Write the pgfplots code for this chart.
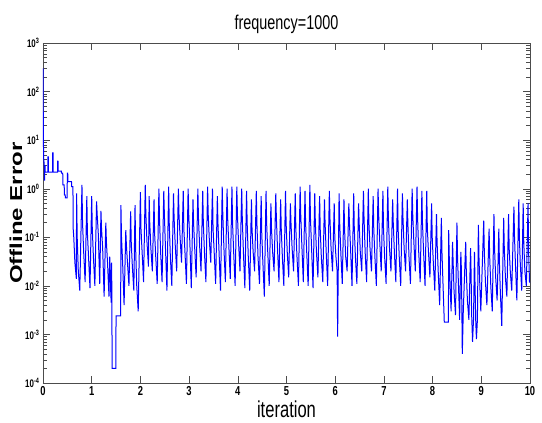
\documentclass[border=0pt]{standalone}
\usepackage{fontspec}
\setmainfont{Liberation Sans}[FakeStretch=0.72]
\newfontfamily\ylabfont{Liberation Sans}
\usepackage{graphicx}
\usepackage{pgfplots}
\pgfplotsset{compat=1.18}
\pgfplotsset{
  every axis title/.style={at={(axis description cs:0.5,1)},anchor=base,yshift=14pt,font=\fontsize{20}{22}\selectfont},
  every axis x label/.style={at={(axis description cs:0.5,0)},anchor=base,yshift=-35pt,font=\fontsize{23}{25}\selectfont},
  every axis y label/.style={at={(axis description cs:0,0.5)},anchor=center,xshift=-27pt,rotate=90},
}
\begin{document}
\begin{tikzpicture}
\useasboundingbox (-43pt,-40pt) rectangle (499pt,383pt);
\begin{axis}[
  scale only axis, width=487pt, height=340pt,
  ymode=log, log basis y=10,
  xmin=0, xmax=10, ymin=1e-4, ymax=1e3,
  xtick={0,1,2,3,4,5,6,7,8,9,10},
  /pgf/number format/assume math mode=true,
  xticklabel style={font=\bfseries\fontsize{13}{14}\selectfont},
  yticklabel style={font=\bfseries\fontsize{11}{12}\selectfont},
  yticklabel={10\textsuperscript{\pgfmathparse{int(round(\tick))}\pgfmathresult}},
  axis line style={black!70},
  every tick/.style={black!70},
  major tick length=7pt, minor tick length=4pt,
  title={frequency=1000},
  xlabel={iteration},
  ylabel={\scalebox{1}[0.72]{\ylabfont\bfseries\fontsize{24}{26}\selectfont Offline Error}},
]
\addplot[sharp plot, draw=blue, line width=1pt] coordinates {
(0,300)(0.004,60)(0.008,12)(0.012,5)(0.018,3.5)(0.025,3.5)(0.028,1.5)(0.032,1.5)(0.033,3)(0.044,3)(0.045,2.2)(0.098,2.2)(0.10,4.5)(0.108,4.5)(0.11,2.2)(0.198,2.2)(0.20,5.5)(0.208,5.5)(0.21,2.2)(0.298,2.2)(0.30,3.7)(0.308,3.7)(0.31,2.3)(0.378,2.3)(0.38,2.1)(0.405,2.1)(0.41,1.2)(0.435,1.2)(0.44,0.75)(0.455,0.75)(0.46,0.65)(0.495,0.65)(0.50,2.1)(0.508,2.1)(0.51,1.4)(0.585,1.4)(0.59,1.1)(0.615,1.1)
(0.62,0.15)(0.632,0.1)(0.655,0.03)(0.685,0.014)
(0.69,0.8)(0.702,0.1)(0.725,0.02)(0.755,0.008)
(0.80,1.2)(0.812,0.2)(0.835,0.05)(0.865,0.012)
(0.90,0.7)(0.912,0.12)(0.935,0.04)(0.965,0.009)
(1.00,0.7)(1.012,0.15)(1.035,0.04)(1.065,0.010)
(1.10,0.55)(1.112,0.3)(1.135,0.12)(1.165,0.011)
(1.19,0.35)(1.202,0.15)(1.225,0.06)(1.255,0.006)
(1.29,0.2)(1.302,0.08)(1.325,0.03)(1.355,0.006)
(1.37,0.04)(1.382,0.02)(1.39,0.008)(1.40,0.0045)(1.41,0.03)(1.42,0.0002)(1.495,0.0002)(1.50,0.0024)(1.595,0.0024)
(1.60,0.46)(1.612,0.1)(1.635,0.03)(1.665,0.004)
(1.70,0.14)(1.712,0.07)(1.735,0.03)(1.765,0.01)
(1.80,0.34)(1.812,0.08)(1.835,0.025)(1.865,0.008)
(1.89,0.46)(1.902,0.06)(1.925,0.01)(1.955,0.003)
(2.00,0.85)(2.012,0.15)(2.035,0.05)(2.065,0.012)
(2.10,1.2)(2.112,0.3)(2.135,0.08)(2.165,0.025)
(2.18,0.7)(2.192,0.2)(2.215,0.06)(2.245,0.02)
(2.28,0.6)(2.292,0.12)(2.315,0.04)(2.345,0.011)
(2.38,1.0)(2.392,0.25)(2.415,0.05)(2.445,0.012)
(2.48,0.9)(2.492,0.3)(2.515,0.06)(2.545,0.008)
(2.58,1.1)(2.592,0.2)(2.615,0.04)(2.645,0.010)
(2.68,0.8)(2.692,0.25)(2.715,0.07)(2.745,0.02)
(2.78,1.0)(2.792,0.3)(2.815,0.1)(2.845,0.03)
(2.88,0.9)(2.892,0.15)(2.915,0.05)(2.945,0.011)
(2.98,1.0)(2.992,0.3)(3.015,0.08)(3.045,0.009)
(3.08,0.6)(3.092,0.2)(3.115,0.06)(3.145,0.015)
(3.18,1.0)(3.192,0.25)(3.215,0.07)(3.245,0.02)
(3.28,0.9)(3.292,0.2)(3.315,0.05)(3.345,0.012)
(3.38,1.1)(3.392,0.3)(3.415,0.09)(3.445,0.03)
(3.48,1.0)(3.492,0.15)(3.515,0.05)(3.545,0.011)
(3.58,0.7)(3.592,0.2)(3.615,0.05)(3.645,0.008)
(3.68,1.1)(3.692,0.3)(3.715,0.06)(3.745,0.012)
(3.78,1.0)(3.792,0.25)(3.815,0.07)(3.845,0.014)
(3.88,1.1)(3.892,0.2)(3.915,0.05)(3.945,0.010)
(3.98,1.1)(3.992,0.3)(4.015,0.08)(4.045,0.02)
(4.08,1.0)(4.092,0.25)(4.115,0.05)(4.145,0.009)
(4.18,0.9)(4.192,0.2)(4.215,0.04)(4.245,0.008)
(4.28,0.6)(4.292,0.15)(4.315,0.05)(4.345,0.02)
(4.38,0.9)(4.392,0.2)(4.415,0.04)(4.445,0.011)
(4.48,0.7)(4.492,0.12)(4.515,0.03)(4.545,0.006)
(4.58,0.9)(4.592,0.2)(4.615,0.05)(4.645,0.01)
(4.68,0.5)(4.692,0.15)(4.715,0.05)(4.745,0.02)
(4.78,0.8)(4.792,0.25)(4.815,0.06)(4.845,0.012)
(4.88,0.6)(4.892,0.15)(4.915,0.04)(4.945,0.01)
(4.98,0.9)(4.992,0.2)(5.015,0.05)(5.045,0.015)
(5.08,0.5)(5.092,0.2)(5.115,0.06)(5.145,0.02)
(5.18,0.8)(5.192,0.15)(5.215,0.04)(5.245,0.01)
(5.28,1.1)(5.292,0.3)(5.315,0.07)(5.345,0.012)
(5.38,0.9)(5.392,0.2)(5.415,0.05)(5.445,0.01)
(5.48,1.2)(5.492,0.25)(5.515,0.06)(5.545,0.009)
(5.58,0.8)(5.592,0.2)(5.615,0.05)(5.645,0.015)
(5.68,0.7)(5.692,0.15)(5.715,0.04)(5.745,0.012)
(5.78,0.6)(5.792,0.2)(5.815,0.05)(5.845,0.01)
(5.88,0.9)(5.892,0.25)(5.915,0.06)(5.945,0.02)
(5.98,0.5)(5.992,0.1)(6.015,0.04)(6.04,0.02)(6.05,0.0009)(6.06,0.012)
(6.08,0.8)(6.092,0.2)(6.115,0.05)(6.145,0.011)
(6.18,0.6)(6.192,0.15)(6.215,0.04)(6.245,0.02)
(6.28,0.5)(6.292,0.2)(6.315,0.06)(6.345,0.01)
(6.38,0.8)(6.392,0.15)(6.415,0.04)(6.445,0.011)
(6.48,0.5)(6.492,0.2)(6.515,0.05)(6.545,0.02)
(6.58,0.9)(6.592,0.25)(6.615,0.05)(6.645,0.012)
(6.68,1.0)(6.692,0.2)(6.715,0.06)(6.745,0.02)
(6.78,0.7)(6.792,0.15)(6.815,0.04)(6.845,0.01)
(6.88,1.0)(6.892,0.3)(6.915,0.08)(6.945,0.02)
(6.98,0.9)(6.992,0.15)(7.015,0.04)(7.045,0.011)
(7.08,1.1)(7.092,0.25)(7.115,0.06)(7.145,0.02)
(7.18,0.6)(7.192,0.2)(7.215,0.05)(7.245,0.012)
(7.28,1.0)(7.292,0.15)(7.315,0.04)(7.345,0.01)
(7.38,0.8)(7.392,0.25)(7.415,0.06)(7.445,0.02)
(7.48,0.6)(7.492,0.2)(7.515,0.04)(7.545,0.011)
(7.58,1.0)(7.592,0.3)(7.615,0.08)(7.645,0.02)
(7.68,1.1)(7.692,0.25)(7.715,0.05)(7.745,0.012)
(7.78,0.9)(7.792,0.2)(7.815,0.05)(7.845,0.01)
(7.88,0.9)(7.892,0.15)(7.915,0.05)(7.945,0.015)
(7.98,0.5)(7.992,0.1)(8.015,0.03)(8.045,0.008)
(8.08,0.3)(8.092,0.08)(8.115,0.02)(8.145,0.004)
(8.18,0.25)(8.192,0.05)(8.215,0.01)(8.24,0.0018)(8.325,0.0018)
(8.33,0.14)(8.342,0.04)(8.36,0.01)(8.38,0.003)
(8.41,0.08)(8.422,0.03)(8.44,0.008)(8.47,0.0025)
(8.50,0.2)(8.512,0.04)(8.535,0.008)(8.555,0.002)
(8.58,0.05)(8.592,0.02)(8.60,0.004)(8.61,0.0004)(8.63,0.003)
(8.68,0.08)(8.692,0.02)(8.715,0.005)(8.745,0.002)
(8.78,0.06)(8.792,0.015)(8.80,0.003)(8.82,0.0007)(8.84,0.002)
(8.86,0.05)(8.872,0.01)(8.885,0.002)(8.90,0.0008)(8.92,0.002)
(8.94,0.18)(8.952,0.04)(8.97,0.01)(8.99,0.003)
(9.05,0.22)(9.062,0.05)(9.085,0.012)(9.115,0.004)
(9.16,0.15)(9.172,0.04)(9.195,0.01)(9.225,0.003)
(9.26,0.3)(9.272,0.06)(9.295,0.015)(9.325,0.005)
(9.36,0.15)(9.372,0.03)(9.39,0.008)(9.42,0.0015)
(9.46,0.25)(9.472,0.06)(9.495,0.015)(9.525,0.006)
(9.56,0.3)(9.572,0.06)(9.595,0.02)(9.625,0.008)
(9.67,0.43)(9.682,0.1)(9.70,0.03)(9.73,0.005)
(9.77,0.6)(9.782,0.1)(9.80,0.03)(9.83,0.008)
(9.86,0.5)(9.872,0.08)(9.895,0.02)(9.925,0.01)
(9.96,0.5)(9.972,0.05)(9.99,0.012)(10,0.012)
};
\node[anchor=base east,font=\bfseries\fontsize{11}{12}\selectfont] at ([xshift=5pt,yshift=-36pt]axis description cs:1,0) {x 10\textsuperscript{4}};
\end{axis}
\end{tikzpicture}
\end{document}
